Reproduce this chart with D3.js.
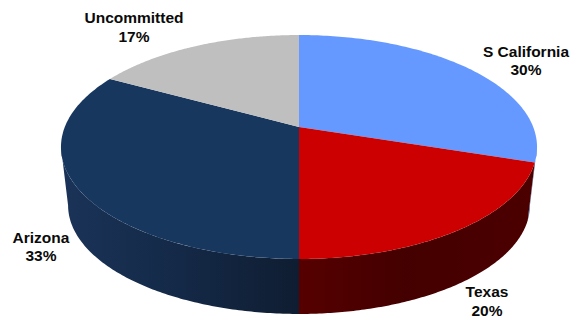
<!DOCTYPE html>
<html>
<head>
<meta charset="utf-8">
<script src="https://cdn.jsdelivr.net/npm/d3@7"></script>
<style>
html, body { margin: 0; padding: 0; background: #fff; }
svg { display: block; }
text { font-family: "Liberation Sans", Arial, sans-serif; font-weight: bold; font-size: 15.5px; fill: #0a0a0a; }
</style>
</head>
<body>
<div id="chart"></div>
<script>
// Region shares, clockwise from twelve o'clock
const regions = ["S California", "Texas", "Arizona", "Uncommitted"];
const shares = [30, 20, 33, 17];
const topColors = ["#6699ff", "#cc0000", "#17375e", "#bfbfbf"];
const wallStops = [
  [["#33507f", 0], ["#3b5e99", 1]],
  [["#560000", 0], ["#440000", 0.45], ["#4c0000", 1]],
  [["#1a3358", 0], ["#142947", 0.5], ["#0f1d31", 1]],
  [["#707070", 0], ["#707070", 1]]
];
const labelAnchors = [[526, 51.5], [487, 292], [41, 237.5], [134, 18]];

const width = 576, height = 320;
const svg = d3.select("#chart").append("svg").attr("width", width).attr("height", height);

// Perspective disc: v runs from far (-1) to near (+1) and swells the near side
const tilt = 0.1786;
const projector = (cx, cy, rx, ry) => {
  const px = d3.scaleLinear().domain([-1, 1]).range([cx - rx, cx + rx]);
  const py = d3.scaleLinear().domain([-1, 1]).range([cy - ry, cy + ry]);
  return a => {
    const u = Math.sin(a), v = -Math.cos(a), s = 1 / (1 - tilt * v);
    return [px(u * s), py(v * s)];
  };
};
const topFace = projector(299, 127, 234.2, 108.4);
const baseFace = projector(299, 186, 227.2, 105.1);
const apex = [299, 127];

const pie = d3.pie().sort(null).startAngle(0).endAngle(2 * Math.PI);
const arcs = pie(shares);
const line = d3.line();
const sweepBetween = (a0, a1) => d3.range(0, 121).map(i => a0 + (a1 - a0) * i / 120);
const sweep = d => sweepBetween(d.startAngle, d.endAngle);

// Only the front of the wall shows: it runs between the two silhouette angles
const frontStart = Math.acos(-tilt), frontEnd = 2 * Math.PI - frontStart;
const frontSweep = d => {
  const a0 = Math.max(d.startAngle, frontStart), a1 = Math.min(d.endAngle, frontEnd);
  return a1 > a0 ? sweepBetween(a0, a1) : [];
};

const defs = svg.append("defs");
wallStops.forEach((stops, i) => {
  const a = sweep(arcs[i]).map(t => topFace(t)[0]);
  const g = defs.append("linearGradient").attr("id", "wall" + i)
    .attr("gradientUnits", "userSpaceOnUse")
    .attr("x1", d3.min(a)).attr("x2", d3.max(a)).attr("y1", 0).attr("y2", 0);
  stops.forEach(([c, o]) => g.append("stop").attr("offset", o).attr("stop-color", c));
});

// Outer walls first, then the top slices over them
svg.append("g").selectAll("path").data(arcs.filter(d => frontSweep(d).length)).join("path")
  .attr("d", d => {
    const t = frontSweep(d);
    return line(t.map(topFace).concat(t.slice().reverse().map(baseFace))) + "Z";
  })
  .attr("fill", d => `url(#wall${d.index})`);

svg.append("g").selectAll("path").data(arcs).join("path")
  .attr("d", d => line([apex].concat(sweep(d).map(topFace))) + "Z")
  .attr("fill", (d, i) => topColors[i]);

const labels = svg.append("g").selectAll("text").data(arcs).join("text")
  .attr("text-anchor", "middle")
  .attr("x", (d, i) => labelAnchors[i][0])
  .attr("y", (d, i) => labelAnchors[i][1] + 5);
labels.append("tspan").attr("x", (d, i) => labelAnchors[i][0]).text((d, i) => regions[i]);
labels.append("tspan").attr("x", (d, i) => labelAnchors[i][0]).attr("dy", 18.5).text(d => d.data + "%");
</script>
</body>
</html>
